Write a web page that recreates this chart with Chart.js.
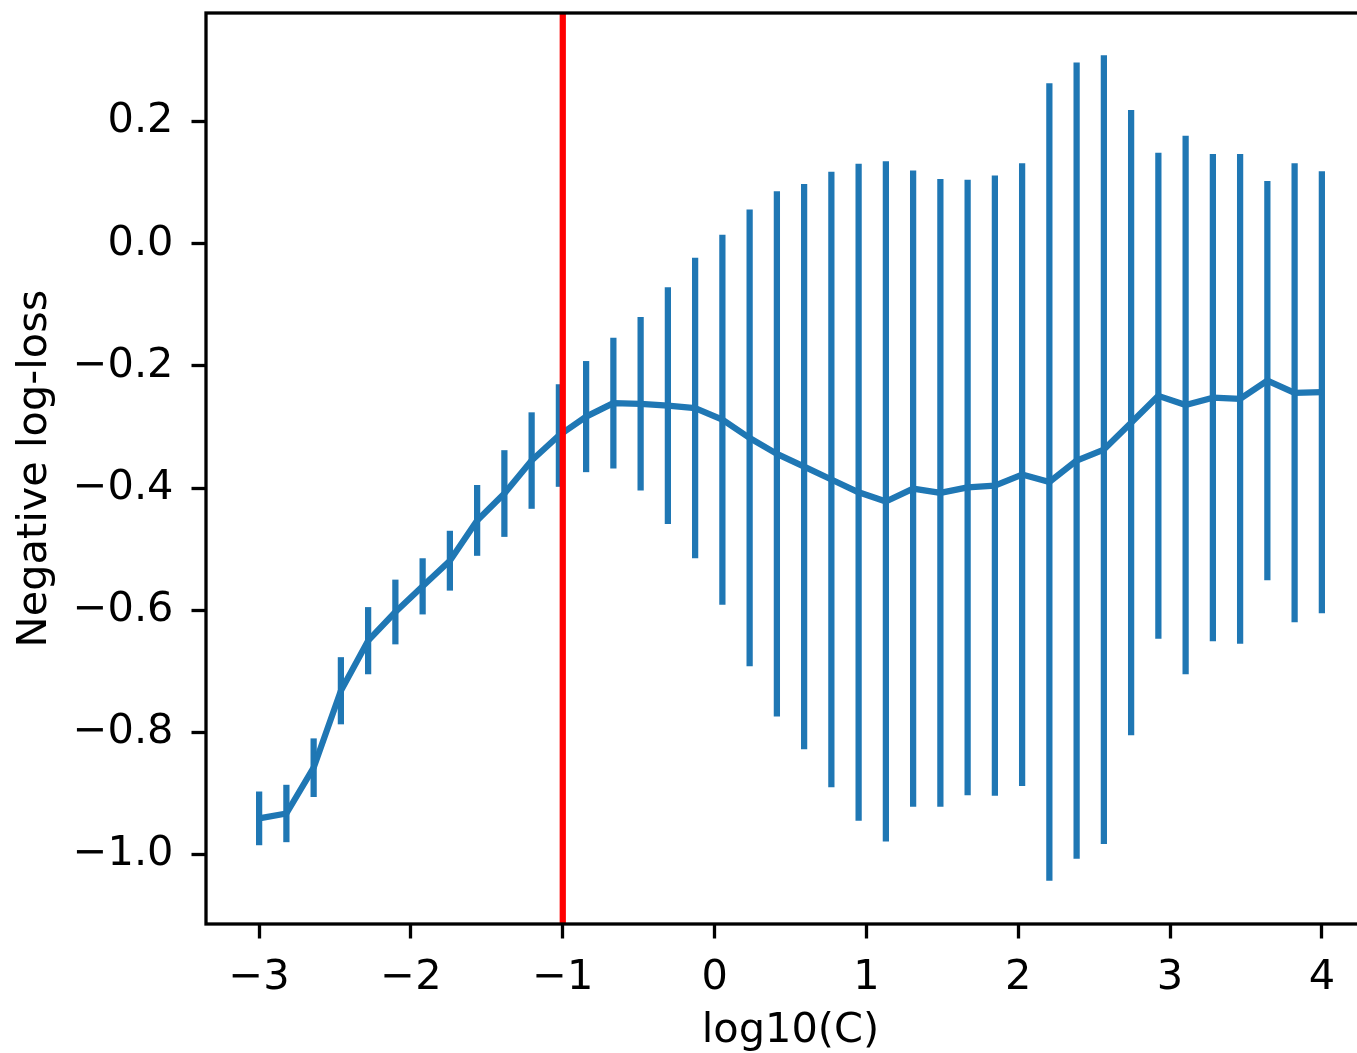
<!DOCTYPE html>
<html>
<head>
<meta charset="utf-8">
<script src="https://cdn.jsdelivr.net/npm/chart.js@4/dist/chart.umd.min.js"></script>
<style>
  html, body { margin: 0; padding: 0; background: #fff; overflow: hidden; }
  canvas { display: block; }
</style>
</head>
<body>
<canvas id="cv-chart" width="1380" height="1053"></canvas>
<script>
// log10(C) grid (40 values)
var logC = [-3.0, -2.8205, -2.641, -2.4615, -2.2821, -2.1026, -1.9231, -1.7436, -1.5641, -1.3846,
  -1.2051, -1.0256, -0.8462, -0.6667, -0.4872, -0.3077, -0.1282, 0.0513, 0.2308, 0.4103,
  0.5897, 0.7692, 0.9487, 1.1282, 1.3077, 1.4872, 1.6667, 1.8462, 2.0256, 2.2051,
  2.3846, 2.5641, 2.7436, 2.9231, 3.1026, 3.2821, 3.4615, 3.641, 3.8205, 4.0];

// mean negative log-loss
var meanScore = [-0.941, -0.933, -0.858, -0.732, -0.650, -0.603, -0.561, -0.519, -0.453, -0.409,
  -0.355, -0.314, -0.283, -0.261, -0.262, -0.265, -0.269, -0.288, -0.318, -0.344,
  -0.365, -0.386, -0.407, -0.422, -0.401, -0.408, -0.399, -0.396, -0.378, -0.390,
  -0.355, -0.337, -0.293, -0.249, -0.264, -0.252, -0.254, -0.224, -0.244, -0.243];

// std (half length of the error bars)
var stdScore = [0.044, 0.047, 0.048, 0.055, 0.055, 0.053, 0.046, 0.049, 0.058, 0.071,
  0.079, 0.084, 0.091, 0.107, 0.142, 0.194, 0.246, 0.303, 0.374, 0.430,
  0.463, 0.504, 0.538, 0.557, 0.521, 0.514, 0.504, 0.508, 0.510, 0.653,
  0.652, 0.646, 0.512, 0.398, 0.441, 0.399, 0.401, 0.327, 0.376, 0.362];

var bestLogC = -1;

var xTicks = [-3, -2, -1, 0, 1, 2, 3, 4];
var yTicks = [-1.0, -0.8, -0.6, -0.4, -0.2, 0.0, 0.2];

var xMin = -3.35, xMax = 4.35;
var yMin = -1.114, yMax = 0.378;

var BLUE = "#1f77b4";
var FONT = { family: "'DejaVu Sans', sans-serif", size: 41.5 };

function minusSign(s) {
  return String(s).replace("-", "\u2212");
}

var datasets = [];

// red vertical line at the chosen C
datasets.push({
  data: [{ x: bestLogC, y: yMin }, { x: bestLogC, y: yMax }],
  borderColor: "#ff0000",
  borderWidth: 6.25,
  pointRadius: 0,
  order: 0,
});

// mean curve
datasets.push({
  data: logC.map(function (x, i) { return { x: x, y: meanScore[i] }; }),
  borderColor: BLUE,
  borderWidth: 6.25,
  borderJoinStyle: "round",
  pointRadius: 0,
  tension: 0,
  order: 1,
});

// one small line per error bar
logC.forEach(function (x, i) {
  datasets.push({
    data: [{ x: x, y: meanScore[i] - stdScore[i] }, { x: x, y: meanScore[i] + stdScore[i] }],
    borderColor: BLUE,
    borderWidth: 6.25,
    borderCapStyle: "butt",
    pointRadius: 0,
    order: 2,
  });
});

// axes frame (all four spines)
var framePlugin = {
  id: "frame",
  afterDatasetsDraw: function (chart) {
    var a = chart.chartArea;
    var ctx = chart.ctx;
    ctx.save();
    ctx.strokeStyle = "#000";
    ctx.lineWidth = 3.3;
    ctx.strokeRect(a.left, a.top, a.right - a.left, a.bottom - a.top);
    ctx.restore();
  },
};

var ctx = document.getElementById("cv-chart").getContext("2d");
new Chart(ctx, {
  type: "line",
  data: { datasets: datasets },
  plugins: [framePlugin],
  options: {
    responsive: false,
    animation: false,
    devicePixelRatio: 1,
    layout: { padding: { top: 13, right: 5, left: 0, bottom: 0 } },
    plugins: {
      legend: { display: false },
      tooltip: { enabled: false },
    },
    scales: {
      x: {
        type: "linear",
        min: xMin,
        max: xMax,
        afterBuildTicks: function (scale) {
          scale.ticks = xTicks.map(function (v) { return { value: v }; });
        },
        afterFit: function (scale) {
          scale.height = 129;
          scale.paddingLeft = 0;
          scale.paddingRight = 0;
        },
        border: { display: false },
        grid: {
          drawOnChartArea: false,
          tickLength: 14.5,
          tickWidth: 3.3,
          tickColor: "#000",
          color: "#000",
        },
        ticks: {
          color: "#000",
          font: FONT,
          padding: 15,
          maxRotation: 0,
          callback: function (v) { return minusSign(v); },
        },
        title: {
          display: true,
          text: "log10(C)",
          color: "#000",
          font: FONT,
          padding: { top: 0, bottom: -3 },
        },
      },
      y: {
        type: "linear",
        min: yMin,
        max: yMax,
        afterBuildTicks: function (scale) {
          scale.ticks = yTicks.map(function (v) { return { value: v }; });
        },
        afterFit: function (scale) {
          scale.width = 206;
          scale.paddingTop = 0;
          scale.paddingBottom = 0;
        },
        border: { display: false },
        grid: {
          drawOnChartArea: false,
          tickLength: 14.5,
          tickWidth: 3.3,
          tickColor: "#000",
          color: "#000",
        },
        ticks: {
          color: "#000",
          font: FONT,
          padding: 18,
          callback: function (v) { return minusSign(Number(v).toFixed(1)); },
        },
        title: {
          display: true,
          text: "Negative log-loss",
          color: "#000",
          font: FONT,
          padding: { top: 10, bottom: 0 },
        },
      },
    },
  },
});
</script>
</body>
</html>
